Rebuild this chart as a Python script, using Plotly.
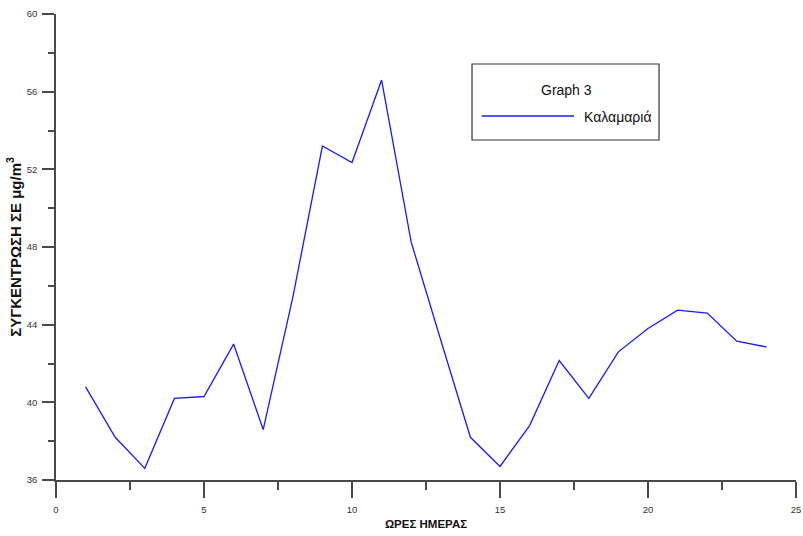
import plotly.graph_objects as go

# Hourly concentration readings for Καλαμαριά
hours = list(range(1, 25))
concentration = [40.8, 38.2, 36.6, 40.2, 40.3, 43.0, 38.6, 45.4, 53.2, 52.35,
                 56.6, 48.25, 43.2, 38.2, 36.7, 38.8, 42.15, 40.2, 42.6, 43.8,
                 44.75, 44.6, 43.15, 42.85]

series_name = "Καλαμαριά"
legend_title = "Graph 3"
x_title = "ΩΡΕΣ ΗΜΕΡΑΣ"
y_title = "ΣΥΓΚΕΝΤΡΩΣΗ ΣΕ μg/m<sup>3</sup>"

FONT = "Liberation Sans, Arial, sans-serif"
AXIS_COLOR = "#4a4a4a"
LINE_COLOR = "#1a1aff"

fig = go.Figure()
fig.add_trace(go.Scatter(
    x=hours, y=concentration, mode="lines", name=series_name,
    line=dict(color=LINE_COLOR, width=1.3), showlegend=False,
))

axis_common = dict(
    showgrid=False, zeroline=False, showline=True, automargin=False,
    linecolor=AXIS_COLOR, linewidth=1.5,
    ticks="outside", tickcolor=AXIS_COLOR, tickwidth=1.5,
    tickfont=dict(family=FONT, size=9.5, color="#333333"),
)

fig.update_xaxes(
    range=[0, 25], tick0=0, dtick=5, ticklen=16,
    minor=dict(ticks="outside", tick0=0, dtick=2.5, ticklen=8,
               tickcolor=AXIS_COLOR, tickwidth=1.5),
    ticklabelstandoff=4,
    title=dict(text=x_title, font=dict(family=FONT, size=11.5, color="#111", weight="bold"),
               standoff=6),
    **axis_common,
)
fig.update_yaxes(
    range=[36, 60], tick0=36, dtick=4, ticklen=12,
    minor=dict(ticks="outside", tick0=36, dtick=2, ticklen=6,
               tickcolor=AXIS_COLOR, tickwidth=1.5),
    ticklabelstandoff=3,
    title=dict(text=y_title, font=dict(family=FONT, size=15, color="#111", weight="bold"),
               standoff=2),
    **axis_common,
)

# Legend box drawn in paper space
fig.add_shape(type="rect", xref="paper", yref="paper",
              x0=0.5622, x1=0.8149, y0=0.7296, y1=0.8927,
              line=dict(color="#333333", width=1.2), fillcolor="white")
fig.add_shape(type="line", xref="paper", yref="paper",
              x0=0.5753, x1=0.700, y0=0.7811, y1=0.7811,
              line=dict(color=LINE_COLOR, width=1.3))
fig.add_annotation(text=legend_title, xref="paper", yref="paper",
                   x=0.6892, y=0.8369, showarrow=False, xanchor="center", yanchor="middle",
                   font=dict(family=FONT, size=14, color="#111"))
fig.add_annotation(text=series_name, xref="paper", yref="paper",
                   x=0.711, y=0.779, showarrow=False, xanchor="left", yanchor="middle",
                   font=dict(family=FONT, size=14, color="#111"))

fig.update_layout(
    width=803, height=536,
    margin=dict(l=56, r=7, t=14, b=56),
    plot_bgcolor="white", paper_bgcolor="white",
    showlegend=False,
)

fig.write_html("out.html")
